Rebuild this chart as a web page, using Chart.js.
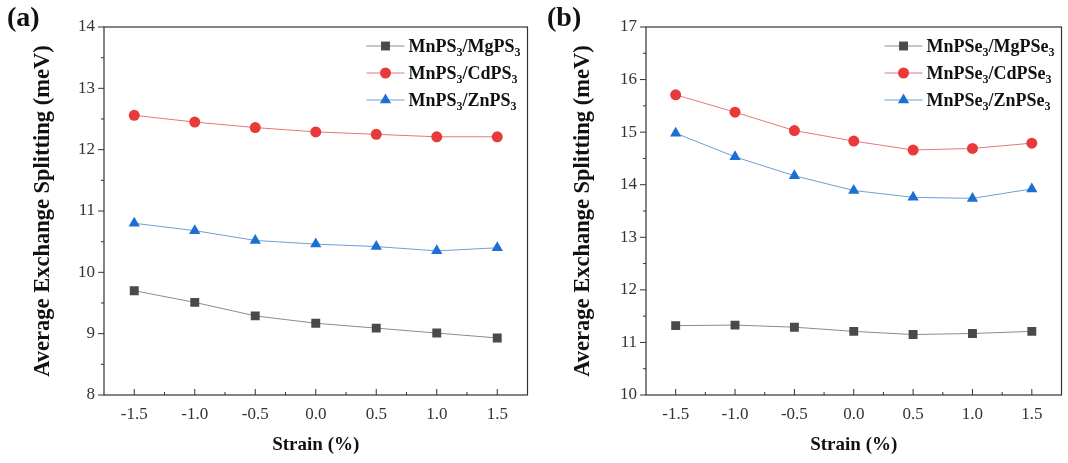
<!DOCTYPE html>
<html>
<head>
<meta charset="utf-8">
<script src="https://cdn.jsdelivr.net/npm/chart.js@4.4.0/dist/chart.umd.min.js"></script>
<style>
  body { margin: 0; background: #fff; }
  #wrap { position: relative; width: 1068px; height: 463px; }
  canvas { position: absolute; top: 0; }
</style>
</head>
<body>
<div id="wrap">
  <canvas id="chartA" width="534" height="463" style="left:0"></canvas>
  <canvas id="chartB" width="534" height="463" style="left:534px"></canvas>
</div>
<script>
// data
const strain = [-1.5, -1.0, -0.5, 0.0, 0.5, 1.0, 1.5];
const xTicks = [-1.5, -1.0, -0.5, 0.0, 0.5, 1.0, 1.5];
const yTicksA = [8, 9, 10, 11, 12, 13, 14];
const yTicksB = [10, 11, 12, 13, 14, 15, 16, 17];

const mgPS3 = [9.70, 9.51, 9.29, 9.17, 9.09, 9.01, 8.93];
const cdPS3 = [12.56, 12.45, 12.36, 12.29, 12.25, 12.21, 12.21];
const znPS3 = [10.80, 10.68, 10.52, 10.46, 10.42, 10.35, 10.40];

const mgPSe3 = [11.32, 11.33, 11.29, 11.21, 11.15, 11.17, 11.21];
const cdPSe3 = [15.71, 15.38, 15.03, 14.83, 14.66, 14.69, 14.79];
const znPSe3 = [14.98, 14.53, 14.17, 13.89, 13.76, 13.74, 13.92];

const namesA = ['MnPS3/MgPS3', 'MnPS3/CdPS3', 'MnPS3/ZnPS3'];
const namesB = ['MnPSe3/MgPSe3', 'MnPSe3/CdPSe3', 'MnPSe3/ZnPSe3'];

const SERIF = '"Liberation Serif", "Times New Roman", serif';
const AXIS = '#333';

// marker / line style per series (Mg, Cd, Zn)
const styles = [
  { point: 'rect',     radius: 6.3, fill: '#4a4a4a', line: '#8c8c8c' },
  { point: 'circle',   radius: 5.5, fill: '#e8393b', line: '#e07a7a' },
  { point: 'triangle', radius: 6.5, fill: '#1d6fd2', line: '#6f9fd6' }
];

function marker(ctx, st, x, y) {
  ctx.save();
  ctx.fillStyle = st.fill;
  ctx.beginPath();
  if (st.point === 'rect') {
    const s = st.radius * Math.SQRT1_2;
    ctx.rect(x - s, y - s, 2 * s, 2 * s);
  } else if (st.point === 'circle') {
    ctx.arc(x, y, st.radius, 0, Math.PI * 2);
  } else {
    for (let k = 0; k < 3; k++) {
      const a = k * 2 * Math.PI / 3;
      const px = x + Math.sin(a) * st.radius, py = y - Math.cos(a) * st.radius;
      k ? ctx.lineTo(px, py) : ctx.moveTo(px, py);
    }
    ctx.closePath();
  }
  ctx.fill();
  ctx.restore();
}

// text with the digits set as subscripts
function subText(ctx, text, x, y, draw) {
  const parts = text.split(/(\d)/).filter(p => p.length);
  let w = 0;
  parts.forEach(p => {
    const sub = /\d/.test(p);
    ctx.font = sub ? 'bold 12px ' + SERIF : 'bold 18px ' + SERIF;
    if (draw) ctx.fillText(p, x + w, sub ? y + 4 : y);
    w += ctx.measureText(p).width;
  });
  return w;
}

// frame, tick marks and panel letter
const frame = {
  id: 'frame',
  afterDraw(chart, args, o) {
    const { ctx, chartArea: a, scales } = chart;
    ctx.save();
    ctx.strokeStyle = AXIS;
    ctx.lineWidth = 1.2;
    ctx.strokeRect(a.left, a.top, a.right - a.left, a.bottom - a.top);
    ctx.lineWidth = 1;
    ctx.beginPath();
    // x ticks point inwards
    xTicks.forEach((v, i) => {
      const px = scales.x.getPixelForValue(v);
      ctx.moveTo(px, a.bottom); ctx.lineTo(px, a.bottom - 6);
      if (i < xTicks.length - 1) {
        const mx = scales.x.getPixelForValue((v + xTicks[i + 1]) / 2);
        ctx.moveTo(mx, a.bottom); ctx.lineTo(mx, a.bottom - 3);
      }
    });
    // y ticks point outwards
    o.yTicks.forEach((v, i) => {
      const py = scales.y.getPixelForValue(v);
      ctx.moveTo(a.left, py); ctx.lineTo(a.left - 6, py);
      if (i < o.yTicks.length - 1) {
        const my = scales.y.getPixelForValue((v + o.yTicks[i + 1]) / 2);
        ctx.moveTo(a.left, my); ctx.lineTo(a.left - 3, my);
      }
    });
    ctx.stroke();
    ctx.fillStyle = '#111';
    ctx.font = 'bold 28px ' + SERIF;
    ctx.textBaseline = 'alphabetic';
    ctx.fillText(o.letter, o.letterX, 26);
    ctx.restore();
  }
};

const subLegend = {
  id: 'subLegend',
  afterDraw(chart, args, o) {
    const { ctx, chartArea: a } = chart;
    ctx.save();
    ctx.textBaseline = 'alphabetic';
    const widths = chart.data.datasets.map(ds => subText(ctx, ds.label, 0, 0, false));
    const tx = a.right - 7 - Math.max(...widths);
    chart.data.datasets.forEach((ds, i) => {
      const y = a.top + 19 + i * 27;
      const st = styles[i];
      ctx.strokeStyle = st.line;
      ctx.lineWidth = 1;
      ctx.beginPath();
      ctx.moveTo(tx - 42, y); ctx.lineTo(tx - 4, y);
      ctx.stroke();
      marker(ctx, st, tx - 23, y);
      ctx.fillStyle = '#111';
      subText(ctx, ds.label, tx, y + 6, true);
    });
    ctx.restore();
  }
};

function makeChart(id, series, names, yTicks, yAxisWidth, titlePad, letter, letterX) {
  const datasets = series.map((vals, i) => ({
    label: names[i],
    data: strain.map((x, j) => ({ x: x, y: vals[j] })),
    borderColor: styles[i].line,
    borderWidth: 1,
    pointStyle: styles[i].point,
    pointRadius: styles[i].radius,
    pointBackgroundColor: styles[i].fill,
    pointBorderColor: styles[i].fill,
    pointBorderWidth: 0,
    tension: 0
  }));
  return new Chart(document.getElementById(id), {
    type: 'line',
    data: { datasets },
    options: {
      responsive: false,
      animation: false,
      devicePixelRatio: 1,
      layout: { padding: { top: 27, right: 2, left: 0, bottom: 0 } },
      plugins: {
        legend: { display: false },
        tooltip: { enabled: false },
        frame: { yTicks, letter, letterX }
      },
      scales: {
        x: {
          type: 'linear',
          min: -1.75, max: 1.75,
          afterFit: s => { s.height = 68; },
          afterBuildTicks: s => { s.ticks = xTicks.map(v => ({ value: v })); },
          grid: { display: false, drawTicks: false },
          border: { display: false },
          ticks: {
            padding: 9,
            color: AXIS,
            font: { family: SERIF, size: 17 },
            callback: v => v.toFixed(1)
          },
          title: {
            display: true,
            text: 'Strain (%)',
            color: '#111',
            font: { family: SERIF, size: 19, weight: 'bold' },
            padding: { top: 0, bottom: 7 }
          }
        },
        y: {
          min: yTicks[0], max: yTicks[yTicks.length - 1],
          afterFit: s => { s.width = yAxisWidth; },
          afterBuildTicks: s => { s.ticks = yTicks.map(v => ({ value: v })); },
          grid: { display: false, drawTicks: false },
          border: { display: false },
          ticks: {
            padding: 9,
            color: AXIS,
            font: { family: SERIF, size: 17 }
          },
          title: {
            display: true,
            text: 'Average Exchange Splitting (meV)',
            color: '#111',
            font: { family: SERIF, size: 22.5, weight: 'bold' },
            padding: { top: titlePad, bottom: 0 }
          }
        }
      }
    },
    plugins: [frame, subLegend]
  });
}

makeChart('chartA', [mgPS3, cdPS3, znPS3], namesA, yTicksA, 104, 30, '(a)', 7);
makeChart('chartB', [mgPSe3, cdPSe3, znPSe3], namesB, yTicksB, 112, 36, '(b)', 13);
</script>
</body>
</html>
